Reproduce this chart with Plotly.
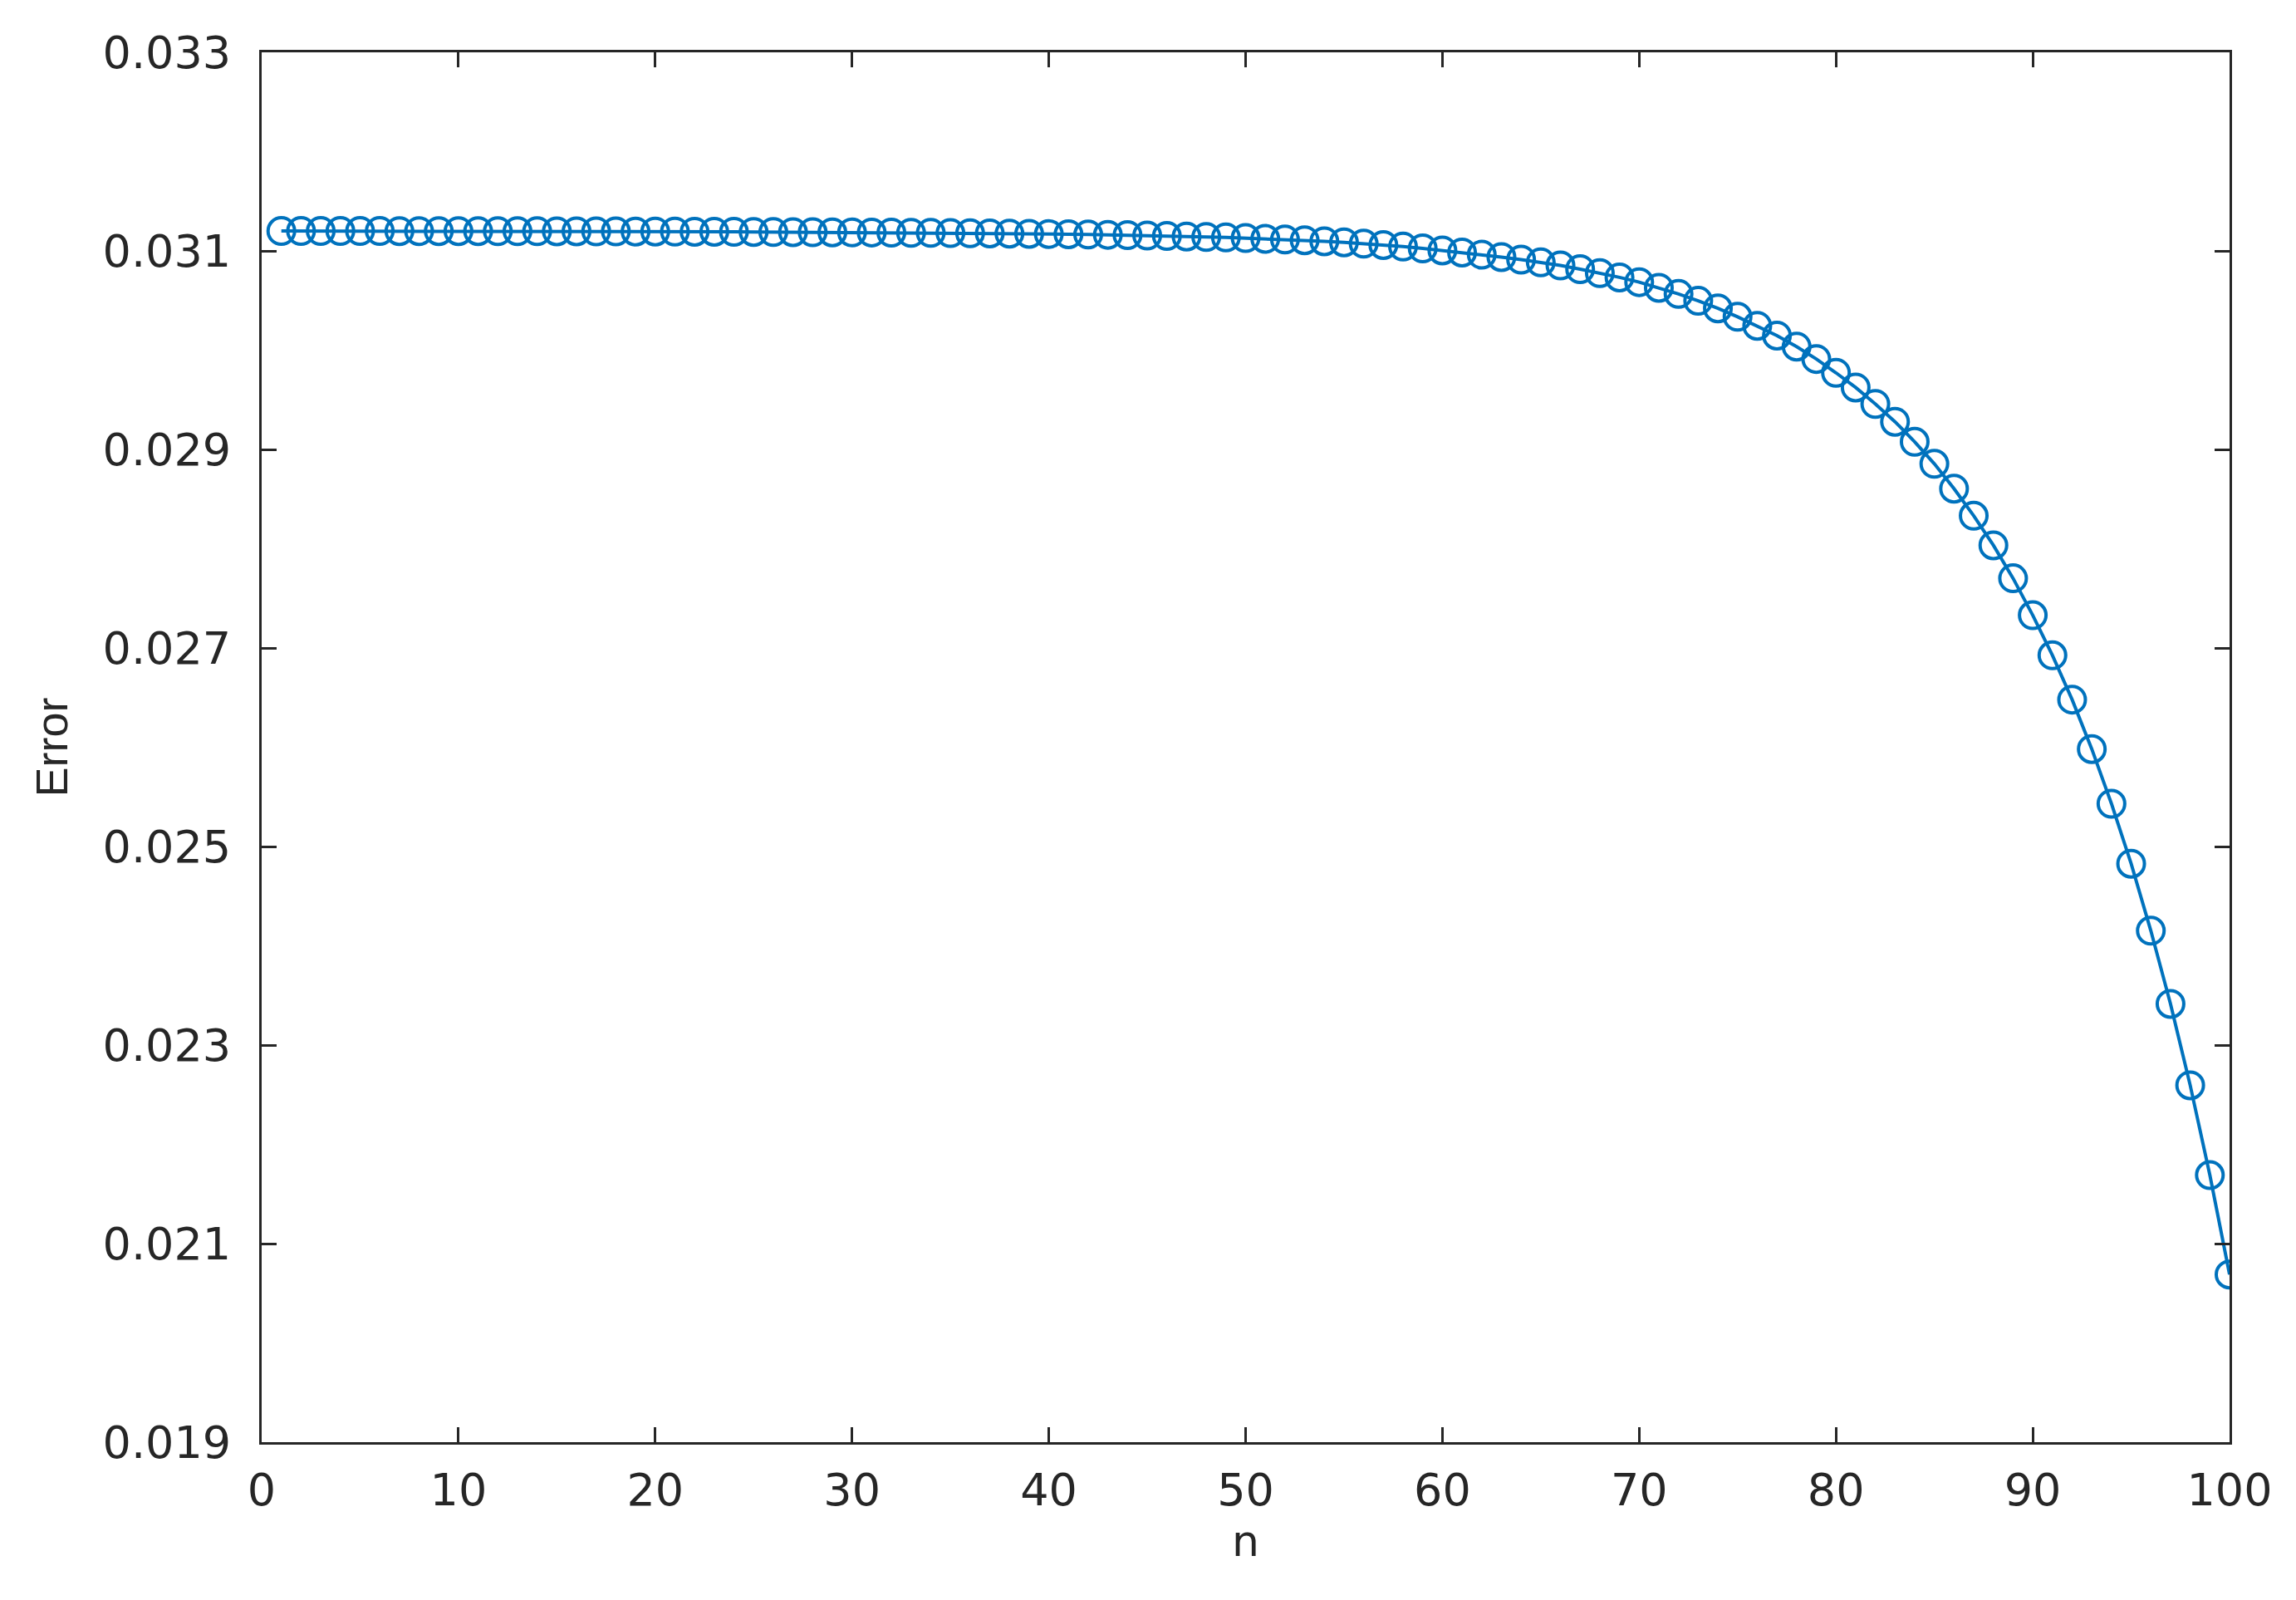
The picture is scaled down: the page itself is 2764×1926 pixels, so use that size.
import plotly.graph_objects as go

n_values = list(range(1, 101))
error_values = [
    0.031200, 0.031200, 0.031200, 0.031200, 0.031200, 0.031200, 0.031199, 0.031199, 0.031199, 0.031199,
    0.031199, 0.031198, 0.031198, 0.031198, 0.031197, 0.031197, 0.031196, 0.031196, 0.031195, 0.031195,
    0.031194, 0.031193, 0.031193, 0.031192, 0.031191, 0.031190, 0.031189, 0.031188, 0.031187, 0.031186,
    0.031185, 0.031184, 0.031182, 0.031181, 0.031179, 0.031178, 0.031176, 0.031174, 0.031172, 0.031170,
    0.031168, 0.031165, 0.031162, 0.031159, 0.031155, 0.031150, 0.031145, 0.031140, 0.031135, 0.031129,
    0.031122, 0.031115, 0.031107, 0.031097, 0.031086, 0.031073, 0.031059, 0.031043, 0.031025, 0.031005,
    0.030984, 0.030962, 0.030938, 0.030912, 0.030884, 0.030853, 0.030816, 0.030776, 0.030733, 0.030685,
    0.030628, 0.030566, 0.030497, 0.030421, 0.030336, 0.030245, 0.030147, 0.030036, 0.029911, 0.029772,
    0.029624, 0.029458, 0.029279, 0.029077, 0.028855, 0.028605, 0.028332, 0.028034, 0.027702, 0.027330,
    0.026926, 0.026480, 0.025982, 0.025431, 0.024827, 0.024152, 0.023415, 0.022595, 0.021690, 0.020689,
]

x_ticks = [0, 10, 20, 30, 40, 50, 60, 70, 80, 90, 100]
y_ticks = [0.019, 0.021, 0.023, 0.025, 0.027, 0.029, 0.031, 0.033]
y_tick_labels = ["0.019", "0.021", "0.023", "0.025", "0.027", "0.029", "0.031", "0.033"]

blue = "#0072BD"
axis_color = "#262626"

fig = go.Figure()
fig.add_trace(go.Scatter(
    x=n_values, y=error_values, mode="lines+markers",
    line=dict(color=blue, width=4),
    marker=dict(symbol="circle-open", size=32, color=blue, line=dict(color=blue, width=4)),
    showlegend=False,
))

tick_font = dict(family="DejaVu Sans", size=54, color=axis_color)

fig.update_layout(
    width=2764, height=1926,
    paper_bgcolor="white", plot_bgcolor="white",
    margin=dict(l=307, r=88, t=55, b=198),
    xaxis=dict(
        range=[0, 100], tickvals=x_ticks, ticktext=[str(v) for v in x_ticks],
        showgrid=False, zeroline=False, showline=True, linecolor=axis_color, linewidth=3,
        mirror="ticks", ticks="inside", ticklen=18, tickwidth=3, tickcolor=axis_color,
        tickfont=tick_font, ticklabelstandoff=8,
        title=dict(text="n", font=dict(family="DejaVu Sans", size=52, color=axis_color), standoff=10),
    ),
    yaxis=dict(
        range=[0.019, 0.033], tickvals=y_ticks, ticktext=y_tick_labels,
        showgrid=False, zeroline=False, showline=True, linecolor=axis_color, linewidth=3,
        mirror="ticks", ticks="inside", ticklen=18, tickwidth=3, tickcolor=axis_color,
        tickfont=tick_font, ticklabelstandoff=23,
    ),
    annotations=[dict(
        text="Error", textangle=-90, xref="paper", yref="paper", x=0, y=0.5,
        xanchor="center", yanchor="middle", xshift=-254, showarrow=False,
        font=dict(family="Liberation Sans", size=54, color=axis_color),
    )],
)

fig.write_html("out.html")
